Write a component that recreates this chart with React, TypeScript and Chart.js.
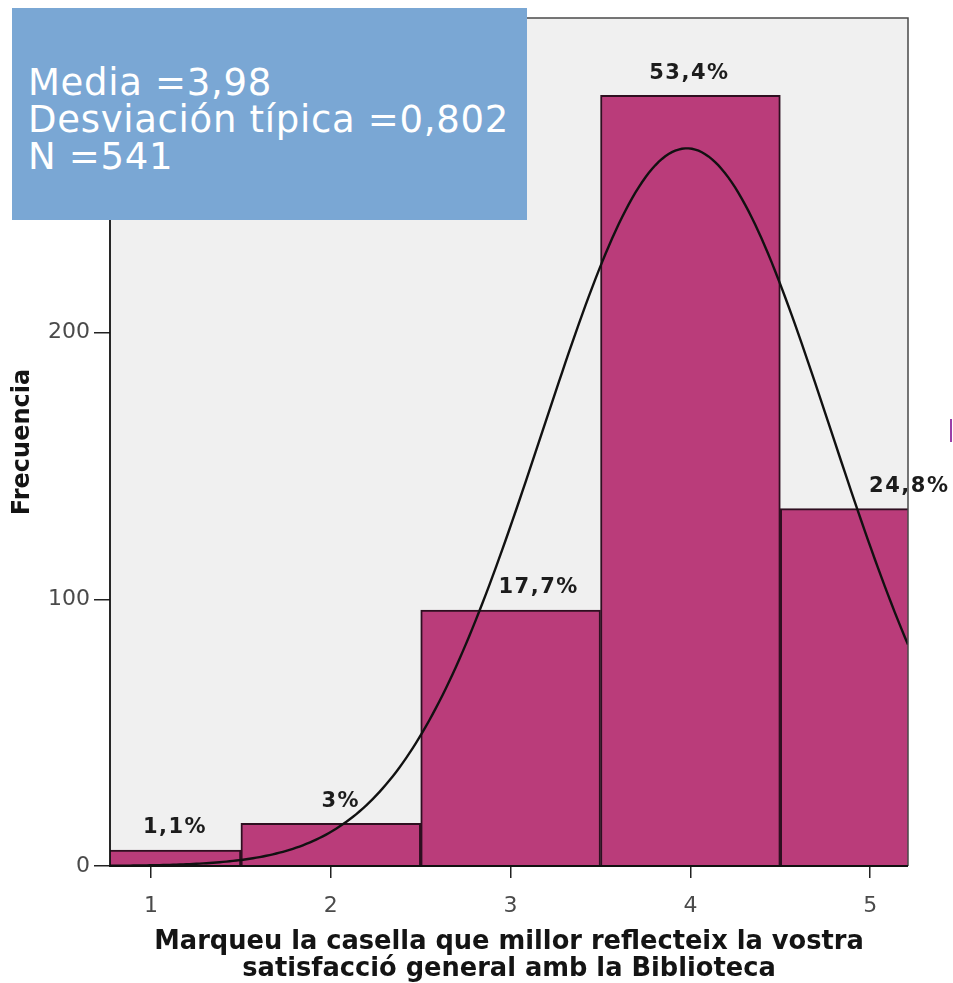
import React, { useEffect, useRef } from "react";
import { Chart, registerables } from "chart.js";

Chart.register(...registerables);

// ---- data ----
const CATEGORIES = [1, 2, 3, 4, 5];
const FREQUENCIES = [6, 16, 96, 289, 134];
const PERCENT_LABELS = ["1,1%", "3%", "17,7%", "53,4%", "24,8%"];
const Y_TICKS = [0, 100, 200];
const MEAN = 3.98;
const STD_DEV = 0.802;
const N = 541;
const STATS_LINES = ["Media =3,98", "Desviación típica =0,802", "N =541"];
const X_TITLE = [
  "Marqueu la casella que millor reflecteix la vostra",
  "satisfacció general amb la Biblioteca",
];
const Y_TITLE = "Frecuencia";

// axis range
const X_MIN = 0.772;
const X_MAX = 5.21;
const Y_MAX = 318;

// Fitted normal curve defined by the printed statistics (N, mean, std. dev., bin width 1)
function normalCurve() {
  const pts: { x: number; y: number }[] = [];
  const steps = 240;
  for (let i = 0; i <= steps; i++) {
    const x = X_MIN + ((X_MAX - X_MIN) * i) / steps;
    const z = (x - MEAN) / STD_DEV;
    const y = (N / (STD_DEV * Math.sqrt(2 * Math.PI))) * Math.exp(-0.5 * z * z);
    pts.push({ x, y });
  }
  return pts;
}

const FONT = "'DejaVu Sans', Verdana, sans-serif";

export default function App() {
  const canvasRef = useRef<HTMLCanvasElement | null>(null);

  useEffect(() => {
    const canvas = canvasRef.current;
    if (!canvas) return;

    const framePlugin = {
      id: "frameAndLabels",
      beforeDraw(chart: any) {
        const { ctx, chartArea: a } = chart;
        ctx.save();
        ctx.fillStyle = "#F0F0F0";
        ctx.fillRect(a.left, a.top, a.right - a.left, a.bottom - a.top);
        ctx.restore();
      },
      afterDatasetsDraw(chart: any, _args: any, opts: any) {
        const { ctx, chartArea: a } = chart;
        ctx.save();
        // top & right frame
        ctx.strokeStyle = "#4a4a4a";
        ctx.lineWidth = 1.5;
        ctx.beginPath();
        ctx.moveTo(a.left, a.top);
        ctx.lineTo(a.right, a.top);
        ctx.lineTo(a.right, a.bottom);
        ctx.stroke();
        // left & bottom axes
        ctx.strokeStyle = "#111";
        ctx.lineWidth = 1.8;
        ctx.beginPath();
        ctx.moveTo(a.left, a.top);
        ctx.lineTo(a.left, a.bottom);
        ctx.lineTo(a.right, a.bottom);
        ctx.stroke();

        // percentage labels above bars
        const meta = chart.getDatasetMeta(1);
        ctx.font = `bold 21px ${FONT}`;
        (ctx as any).letterSpacing = "1.5px";
        ctx.fillStyle = "#1c1c1c";
        ctx.textAlign = "center";
        ctx.textBaseline = "middle";
        meta.data.forEach((bar: any, i: number) => {
          const off = (opts.offsets && opts.offsets[i]) || 0;
          ctx.fillText(PERCENT_LABELS[i], bar.x + off, bar.y - 22);
        });
        ctx.restore();
      },
    };

    const chart = new Chart(canvas, {
      type: "bar",
      data: {
        datasets: [
          {
            type: "line",
            label: "Normal",
            data: normalCurve(),
            borderColor: "#111",
            borderWidth: 2.4,
            pointRadius: 0,
            tension: 0,
            fill: false,
            clip: 0,
            order: 0,
          } as any,
          {
            type: "bar",
            label: "Frecuencia",
            data: CATEGORIES.map((c, i) => ({ x: c, y: FREQUENCIES[i] })),
            backgroundColor: "#BA3C7A",
            borderColor: "#2e0f20",
            borderWidth: 2,
            barPercentage: 1,
            categoryPercentage: 1,
            clip: 0,
            order: 1,
          } as any,
        ],
      },
      options: {
        animation: false,
        responsive: false,
        events: [],
        layout: { padding: { top: 18, right: 45, left: 0, bottom: 0 } },
        plugins: {
          legend: { display: false },
          tooltip: { enabled: false },
          frameAndLabels: { offsets: [24, 10, 28, -1, 39] },
        } as any,
        scales: {
          x: {
            type: "linear",
            min: X_MIN,
            max: X_MAX,
            offset: false,
            afterFit(scale: any) {
              scale.height = 117;
            },
            afterBuildTicks(scale: any) {
              scale.ticks = CATEGORIES.map((v) => ({ value: v }));
            },
            ticks: {
              color: "#4a4a4a",
              font: { family: FONT, size: 22 },
              padding: 15,
            },
            grid: {
              display: true,
              offset: false,
              drawOnChartArea: false,
              drawTicks: true,
              tickLength: 12,
              tickColor: "#222",
              lineWidth: 1.5,
            },
            border: { display: false },
            title: {
              display: true,
              text: X_TITLE,
              color: "#141414",
              font: { family: FONT, size: 25.7, weight: "bold", lineHeight: 1.05 },
              padding: { top: 0, bottom: 0 },
            },
          },
          y: {
            type: "linear",
            min: 0,
            max: Y_MAX,
            afterFit(scale: any) {
              scale.width = 110;
            },
            afterBuildTicks(scale: any) {
              scale.ticks = Y_TICKS.map((v) => ({ value: v }));
            },
            ticks: {
              color: "#4a4a4a",
              font: { family: FONT, size: 22 },
              padding: 4,
            },
            grid: {
              display: true,
              drawOnChartArea: false,
              drawTicks: true,
              tickLength: 16,
              tickColor: "#222",
              lineWidth: 1.5,
            },
            border: { display: false },
            title: {
              display: true,
              text: Y_TITLE,
              color: "#141414",
              font: { family: FONT, size: 24, weight: "bold", lineHeight: 1.2 },
              padding: { top: 8, bottom: 0 },
            },
          },
        },
      },
      plugins: [framePlugin as any],
    });

    return () => {
      chart.destroy();
    };
  }, []);

  return (
    <div
      style={{
        position: "fixed",
        left: 0,
        top: 0,
        width: 953,
        height: 983,
        background: "#fff",
        overflow: "hidden",
      }}
    >
      <canvas ref={canvasRef} width={953} height={983} style={{ display: "block" }} />
      <div
        style={{
          position: "absolute",
          left: 12,
          top: 8,
          width: 515,
          height: 212,
          boxSizing: "border-box",
          background: "rgb(122,167,212)",
          color: "#fff",
          fontFamily: FONT,
          fontSize: 37,
          letterSpacing: "0.7px",
          lineHeight: "37px",
          paddingTop: 56,
          paddingLeft: 16,
          whiteSpace: "nowrap",
        }}
      >
        {STATS_LINES.map((l) => (
          <div key={l}>{l}</div>
        ))}
      </div>
      <div
        style={{
          position: "absolute",
          left: 950,
          top: 419,
          width: 2,
          height: 23,
          background: "#9a3fa8",
        }}
      />
    </div>
  );
}
